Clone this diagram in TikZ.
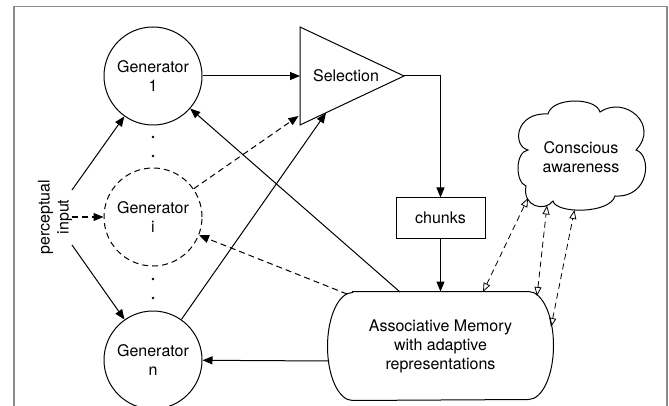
\documentclass[tikz,border=0pt]{standalone}
\usepackage{fontspec}
\setmainfont{TeX Gyre Heros}
\usetikzlibrary{arrows.meta}
\begin{document}
\begin{tikzpicture}[x=1pt, y=-1pt, line width=1pt,
  every node/.style={font=\fontsize{16}{19}\selectfont},
  gen/.style={circle, draw, minimum size=98pt, inner sep=0pt, align=center},
  arr/.style={-{Triangle[length=10pt,width=8pt]}},
  dsh/.style={dash pattern=on 6pt off 4pt},
  biarr/.style={{Triangle[open,length=9pt,width=7pt]}-{Triangle[open,length=9pt,width=7pt]}, dsh, line width=0.8pt},
  frame/.style={draw=black!45, line width=1.6pt}]

\useasboundingbox (0,0) rectangle (669,406);

% outer frame (open at the bottom)
\draw[frame] (14,406) -- (14,6.5) -- (667,6.5) -- (667,406);

% generators
\node[gen] (g1) at (153,76) {Generator\\1};
\node[gen, dsh] (gi) at (153,217) {Generator\\i};
\node[gen] (gn) at (153,360) {Generator\\n};

% ellipsis dots between the generators
\foreach \yy in {137,156,279,298} \fill (153,\yy) circle[radius=1.3pt];

% perceptual input
\node[rotate=90, align=center] (pin) at (55,217) {perceptual\\input};
\coordinate (pinU) at (72,190);
\coordinate (pinM) at (72,217);
\coordinate (pinD) at (72,245);

% selection stage
\coordinate (selTL) at (300,27);
\coordinate (selBL) at (300,125);
\coordinate (selTip) at (404,76);
\draw[line join=miter] (selTL) -- (selTip) -- (selBL) -- cycle;
\node (sel) at (346,76) {Selection};
\coordinate (selIn1) at (300,76);
\coordinate (selIn2) at (298.5,116);
\coordinate (selIn3) at (326,113);

% chunks
\node[draw, minimum width=89pt, minimum height=40pt, inner sep=0pt] (chunks) at (440.5,218) {chunks};

% associative memory
\node[minimum width=225pt, minimum height=108pt, inner sep=0pt, align=center] (mem) at (440.5,346)
  {Associative Memory\\with adaptive\\representations};
\draw ([xshift=25pt]mem.north west) -- ([xshift=-25pt]mem.north east)
  arc[start angle=90, end angle=-90, x radius=25pt, y radius=54pt]
  -- ([xshift=25pt]mem.south west)
  arc[start angle=-90, end angle=-270, x radius=25pt, y radius=54pt] -- cycle;
\coordinate (memT1) at (400,292);
\coordinate (memT2) at (347,294);
\coordinate (memL) at (329,361);
\coordinate (mA) at (483,292);
\coordinate (mB) at (537,296);
\coordinate (mC) at (551,327);

% conscious awareness cloud
\draw (528,150)
  .. controls (512,146) and (515,112) .. (548,114)
  .. controls (552,97) and (596,97) .. (600,112)
  .. controls (625,95) and (660,125) .. (636,150)
  .. controls (652,155) and (650,198) .. (615,196)
  .. controls (610,214) and (556,214) .. (553,201)
  .. controls (545,212) and (522,207) .. (526,186)
  .. controls (515,182) and (515,152) .. (528,150) -- cycle;
\node[align=center] (aware) at (581,157) {Conscious\\awareness};
\coordinate (cA) at (528,198);
\coordinate (cB) at (547,205.5);
\coordinate (cC) at (574.5,210);

% connectors
\draw[arr] (pinU) -- (g1);
\draw[arr, dsh] (pinM) -- (gi);
\draw[arr] (pinD) -- (gn);
\draw[arr] (g1) -- (selIn1);
\draw[arr, dsh] (gi) -- (selIn2);
\draw[arr] (gn) -- (selIn3);
\draw[arr] (selTip) -| (chunks.north);
\draw[arr] (chunks.south) -- (mem.north);
\draw[arr] (memT1) -- (g1);
\draw[arr, dsh] (memT2) -- (gi);
\draw[arr] (memL) -- (gn);
\draw[biarr] (mA) -- (cA);
\draw[biarr] (mB) -- (cB);
\draw[biarr] (mC) -- (cC);
\end{tikzpicture}
\end{document}
